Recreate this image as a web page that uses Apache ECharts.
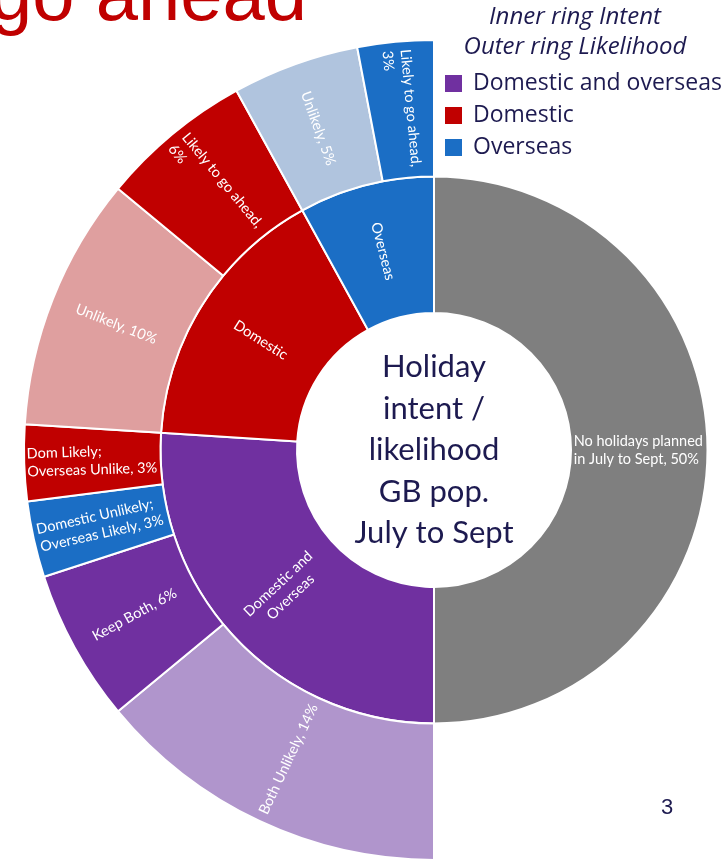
<!DOCTYPE html>
<html><head><meta charset="utf-8">
<script src="https://cdn.jsdelivr.net/npm/echarts@6/dist/echarts.min.js"></script>
<style>html,body{margin:0;padding:0;background:#fff}#c{width:724px;height:860px}</style>
</head><body><div id="c"></div>
<script>
// ---- data ----
const innerNames = ['No holidays planned\nin July to Sept', 'Domestic and\nOverseas', 'Domestic', 'Overseas'];
const noHolidayValue = 50;

const bothNames = ['Both Unlikely', 'Keep Both', 'Domestic Unlikely;\nOverseas Likely', 'Dom Likely;\nOverseas Unlike'];
const bothValues = [14, 6, 3, 3];
const bothPctBreak = [false, false, false, false];

const domNames = ['Unlikely', 'Likely to go ahead'];
const domValues = [10, 6];
const domPctBreak = [false, true];

const ovsNames = ['Unlikely', 'Likely to go ahead'];
const ovsValues = [5, 3];
const ovsPctBreak = [false, true];

const legendNames = ['Domestic and overseas', 'Domestic', 'Overseas'];
const headerLines = ['Inner ring Intent', 'Outer ring Likelihood'];
const centerLines = ['Holiday', 'intent /', 'likelihood', 'GB pop.', 'July to Sept'];
const titleText = 'go ahead';
const pageNumber = '3';

// ---- styles ----
const C_GREY = '#7f7f7f', C_PURPLE = '#7030a0', C_RED = '#c00000', C_BLUE = '#1b6ec5';
const C_LPURPLE = '#b095cc', C_LRED = '#df9f9f', C_LBLUE = '#b0c4de';
const NAVY = '#1d1a50';
const LABEL_FONT = 'Lato';
const LABEL_SIZE = 14.5;

const ctx = document.createElement('canvas').getContext('2d');
function measure(t) { ctx.font = LABEL_SIZE + 'px ' + LABEL_FONT; return ctx.measureText(t).width; }
function leftLabel(text) {
  const lines = text.split('\n');
  if (lines.length < 2) return { formatter: text };
  const w = Math.ceil(Math.max(...lines.map(measure))) + 1;
  return {
    formatter: lines.map(l => '{a|' + l + '}').join('\n'),
    rich: { a: { width: w, align: 'left', fontSize: LABEL_SIZE, fontFamily: LABEL_FONT, color: '#fff', lineHeight: 18 } }
  };
}
function labelText(name, value, brk) { return name + (brk ? ',\n' : ', ') + value + '%'; }
function leaves(names, values, brks, colors) {
  return names.map((n, i) => ({
    name: n, value: values[i],
    itemStyle: { color: colors[i] },
    label: leftLabel(labelText(n, values[i], brks[i]))
  }));
}

const data = [
  { name: innerNames[0], value: noHolidayValue, itemStyle: { color: C_GREY },
    label: leftLabel(labelText(innerNames[0], noHolidayValue, false)) },
  { name: innerNames[1], itemStyle: { color: C_PURPLE },
    children: leaves(bothNames, bothValues, bothPctBreak, [C_LPURPLE, C_PURPLE, C_BLUE, C_RED]) },
  { name: innerNames[2], itemStyle: { color: C_RED },
    children: leaves(domNames, domValues, domPctBreak, [C_LRED, C_RED]) },
  { name: innerNames[3], itemStyle: { color: C_BLUE },
    children: leaves(ovsNames, ovsValues, ovsPctBreak, [C_LBLUE, C_BLUE]) }
];

const legendColors = [C_PURPLE, C_RED, C_BLUE];
const graphics = [];
graphics.push({ type: 'text', silent: true,
  style: { text: titleText, x: -10, y: 37, verticalAlign: 'bottom',
    font: '76px "Liberation Sans", Arial, sans-serif', fill: '#c00000' } });
headerLines.forEach((t, i) => graphics.push({ type: 'text', silent: true,
  style: { text: t, x: 575, y: 17 + i * 30, align: 'center', verticalAlign: 'middle',
    font: 'italic 24px "Open Sans", sans-serif', fill: NAVY } }));
legendNames.forEach((t, i) => {
  const cy = 83.5 + i * 32;
  graphics.push({ type: 'rect', silent: true, shape: { x: 445, y: cy - 8.5, width: 17, height: 17 },
    style: { fill: legendColors[i] } });
  graphics.push({ type: 'text', silent: true,
    style: { text: t, x: 473, y: cy, verticalAlign: 'middle', font: '23px "Open Sans", sans-serif', fill: NAVY } });
});
centerLines.forEach((t, i) => graphics.push({ type: 'text', silent: true,
  style: { text: t, x: 434, y: 450 + (i - 2) * 41.5, align: 'center', verticalAlign: 'middle',
    font: '31px Lato, sans-serif', fill: NAVY } }));
graphics.push({ type: 'text', silent: true,
  style: { text: pageNumber, x: 667, y: 808, align: 'center', verticalAlign: 'middle',
    font: '22px "Liberation Sans", Arial, sans-serif', fill: NAVY } });

const chart = echarts.init(document.getElementById('c'), null, { renderer: 'canvas' });
chart.setOption({
  animation: false,
  backgroundColor: '#ffffff',
  series: [{
    type: 'sunburst',
    center: [434, 450],
    radius: [137, 410],
    startAngle: 90,
    clockwise: true,
    sort: null,
    nodeClick: false,
    emphasis: { disabled: true },
    itemStyle: { borderColor: '#ffffff', borderWidth: 2 },
    label: { rotate: 'radial', color: '#ffffff', fontSize: LABEL_SIZE, fontFamily: LABEL_FONT, lineHeight: 18 },
    data: data
  }],
  graphic: graphics
});
</script></body></html>
